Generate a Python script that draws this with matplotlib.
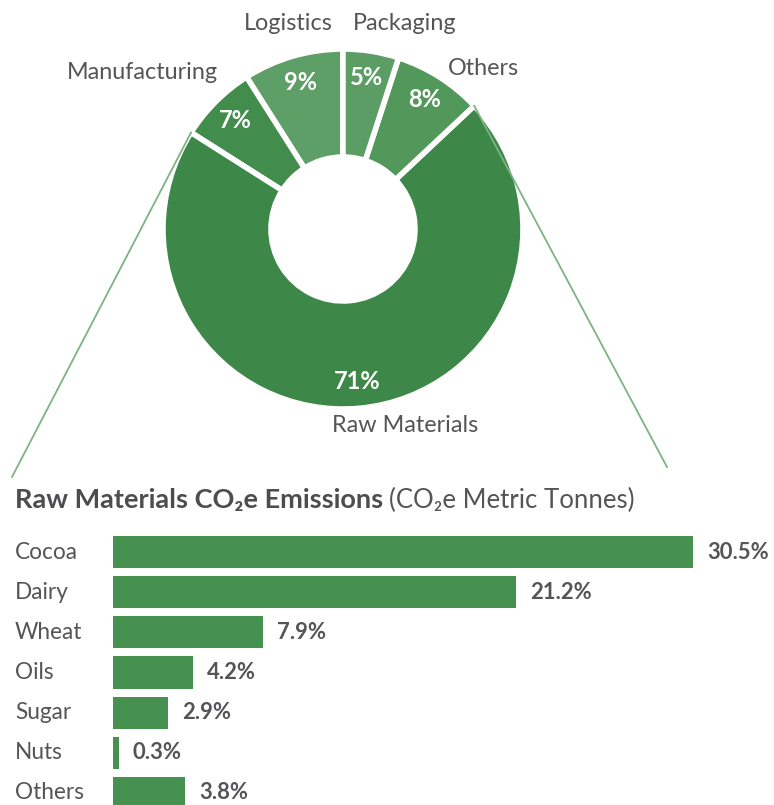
import matplotlib
matplotlib.use("Agg")
import matplotlib.pyplot as plt
from matplotlib.lines import Line2D
import matplotlib.transforms as mtransforms
import numpy as np

plt.rcParams['font.family'] = ['Lato', 'DejaVu Sans']

# Share of total emissions by value-chain stage (%)
stages = ["Logistics", "Manufacturing", "Raw Materials", "Others", "Packaging"]
stage_share = [9, 7, 71, 8, 5]
stage_colors = ["#5e9f67", "#428c4c", "#3d8848", "#52985b", "#5c9d65"]

# Raw material breakdown (%)
materials = ["Cocoa", "Dairy", "Wheat", "Oils", "Sugar", "Nuts", "Others"]
material_share = [30.5, 21.2, 7.9, 4.2, 2.9, 0.3, 3.8]

TEXT = "#555558"
GREEN = "#46914f"

W, H = 774, 805
fig = plt.figure(figsize=(W / 100, H / 100), dpi=100)

# ---- donut ----
cx, cy, R = 343, 229, 180
ax = fig.add_axes([(cx - R) / W, 1 - (cy + R) / H, 2 * R / W, 2 * R / H])
wedges, _ = ax.pie(stage_share, startangle=90, counterclock=True, radius=1,
                   colors=stage_colors,
                   wedgeprops=dict(width=0.6, edgecolor="white", linewidth=4))
ax.set_xlim(-1, 1)
ax.set_ylim(-1, 1)
ax.set_aspect("equal")
ax.axis("off")

for w, v in zip(wedges, stage_share):
    mid = np.deg2rad((w.theta1 + w.theta2) / 2)
    ax.text(0.85 * np.cos(mid), 0.85 * np.sin(mid), f"{v}%", color="white",
            fontsize=17, fontweight="bold", ha="center", va="center")

label_pos = {
    "Logistics": (-0.306, 1.144),
    "Packaging": (0.344, 1.144),
    "Others": (0.778, 0.894),
    "Manufacturing": (-1.117, 0.867),
    "Raw Materials": (0.344, -1.094),
}
for name in stages:
    x, y = label_pos[name]
    ax.text(x, y, name, color=TEXT, fontsize=16.8, ha="center", va="center",
            clip_on=False)

# callout lines from the Raw Materials wedge down to the breakdown
raw = wedges[stages.index("Raw Materials")]
line_ends = [(raw.theta1, (12, 477)), (raw.theta2, (667, 467))]
for ang, (ex, ey) in line_ends:
    a = np.deg2rad(ang)
    sx, sy = cx + R * np.cos(a), cy - R * np.sin(a)
    fig.add_artist(Line2D([sx / W, ex / W], [1 - sy / H, 1 - ey / H],
                          transform=fig.transFigure, color="#7db384", lw=1.3))

# ---- title ----
t1 = fig.text(15 / W, 1 - 500 / H, "Raw Materials CO\u2082e Emissions", color="#4d4d50",
              fontsize=19.5, fontweight="bold", ha="left", va="center")
fig.canvas.draw()
bb = t1.get_window_extent()
fig.text((bb.x1 + 6) / W, 1 - 500 / H, "(CO\u2082e Metric Tonnes)", color=TEXT,
         fontsize=18.5, ha="left", va="center")

# ---- bars ----
px_per_unit = 19.02
x0 = 113
ax2 = fig.add_axes([x0 / W, 0, 34 * px_per_unit / W, 1 - 532 / H])
ypos = np.arange(len(materials))
ax2.barh(ypos, material_share, height=0.8, color=GREEN, edgecolor="none")
ax2.set_xlim(0, 34)
ax2.set_ylim(6.3, -0.5)
ax2.axis("off")

for y, v in zip(ypos, material_share):
    ax2.annotate(f"{v}%", (v, y), xytext=(10, 0), textcoords="offset points",
                 ha="left", va="center", fontsize=15.8, fontweight="bold", color=TEXT)

tr = mtransforms.blended_transform_factory(fig.transFigure, ax2.transData)
for y, name in zip(ypos, materials):
    ax2.text(15 / W, y, name, transform=tr, ha="left", va="center",
             fontsize=16.3, color=TEXT, clip_on=False)

fig.savefig("out.png", dpi=100)
